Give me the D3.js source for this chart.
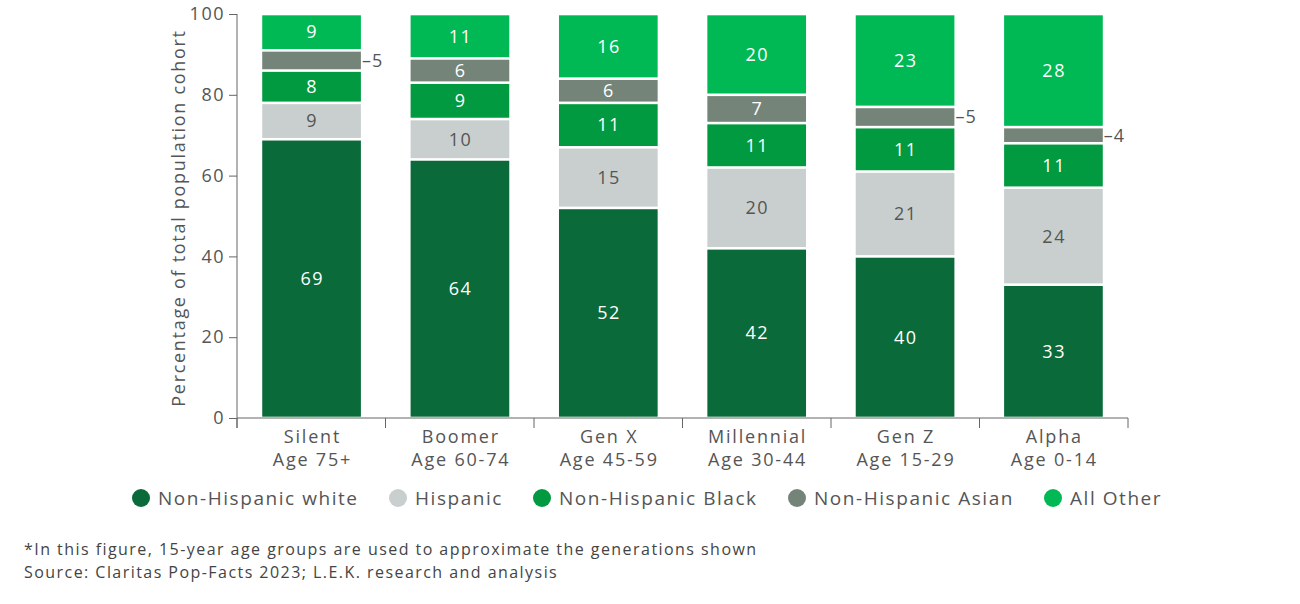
<!DOCTYPE html>
<html>
<head>
<meta charset="utf-8">
<script src="https://cdn.jsdelivr.net/npm/d3@7"></script>
<style>
  body { margin: 0; background: #fff; }
  text { font-family: "Open Sans", sans-serif; letter-spacing: 1.5px; }
</style>
</head>
<body>
<div id="chart"></div>
<script>
// generations on the x axis (two-line labels)
const generations = ["Silent", "Boomer", "Gen X", "Millennial", "Gen Z", "Alpha"];
const ageRanges = ["Age 75+", "Age 60-74", "Age 45-59", "Age 30-44", "Age 15-29", "Age 0-14"];

// series, bottom to top
const groups = ["Non-Hispanic white", "Hispanic", "Non-Hispanic Black", "Non-Hispanic Asian", "All Other"];
const colors = ["#0b6a3a", "#c9cfce", "#019a40", "#758479", "#00b955"];
const labelColors = ["#fff", "#555", "#fff", "#fff", "#fff"];

const white = [69, 64, 52, 42, 40, 33];
const hispanic = [9, 10, 15, 20, 21, 24];
const black = [8, 9, 11, 11, 11, 11];
const asian = [5, 6, 6, 7, 5, 4];
const other = [9, 11, 16, 20, 23, 28];

const yTicks = [0, 20, 40, 60, 80, 100];

const footnotes = [
  "*In this figure, 15-year age groups are used to approximate the generations shown",
  "Source: Claritas Pop-Facts 2023; L.E.K. research and analysis"
];

const w = 1300, h = 604;
const margin = {top: 14, left: 237, right: 172, bottom: 186};

const rows = generations.map((g, i) => ({
  gen: g,
  "Non-Hispanic white": white[i],
  "Hispanic": hispanic[i],
  "Non-Hispanic Black": black[i],
  "Non-Hispanic Asian": asian[i],
  "All Other": other[i]
}));

const svg = d3.select("#chart").append("svg")
    .attr("width", w)
    .attr("height", h);

const x = d3.scaleBand()
    .domain(generations)
    .range([margin.left, w - margin.right])
    .paddingInner(0.335)
    .paddingOuter(0.17);

const y = d3.scaleLinear()
    .domain([0, 100])
    .range([h - margin.bottom, margin.top]);

const stacked = d3.stack().keys(groups)(rows);

// bars
const layer = svg.selectAll("g.layer")
    .data(stacked)
    .enter().append("g")
    .attr("class", "layer")
    .attr("fill", (d, i) => colors[i]);

layer.selectAll("rect")
    .data(d => d.map(v => ({v: v, key: d.key})))
    .enter().append("rect")
    .attr("x", d => x(d.v.data.gen))
    .attr("width", x.bandwidth())
    .attr("y", d => y(d.v[1]) + 1.3)
    .attr("height", d => Math.max(0, y(d.v[0]) - y(d.v[1]) - 2.6));

// segment labels, small ones go outside the bar
layer.each(function(series, si) {
  const g = d3.select(this);
  series.forEach(v => {
    const val = v[1] - v[0];
    const cy = y((v[0] + v[1]) / 2);
    if (val < 6) {
      g.append("text")
        .attr("x", x(v.data.gen) + x.bandwidth() + 1)
        .attr("y", cy)
        .attr("dy", "0.35em")
        .attr("fill", "#555")
        .attr("font-size", 18)
        .style("letter-spacing", "1px")
        .text("\u2013" + val);
    } else {
      g.append("text")
        .attr("x", x(v.data.gen) + x.bandwidth() / 2 + 0.7)
        .attr("y", cy)
        .attr("dy", "0.35em")
        .attr("text-anchor", "middle")
        .attr("fill", labelColors[si])
        .attr("font-size", 18)
        .text(val);
    }
  });
});

// y axis
const yAxis = svg.append("g")
    .attr("transform", "translate(" + margin.left + ",0)")
    .call(d3.axisLeft(y).tickValues(yTicks).tickSize(8).tickPadding(4));
yAxis.select(".domain").attr("stroke", "#666").attr("d", "M0," + y(100) + "V" + (y(0) + 10));
yAxis.selectAll(".tick line").attr("stroke", "#666");
yAxis.selectAll(".tick text")
    .attr("font-size", 18)
    .attr("fill", "#555")
    .style("font-family", "'Open Sans', sans-serif");

// x axis
const xAxis = svg.append("g")
    .attr("transform", "translate(0," + y(0) + ")");
xAxis.append("line")
    .attr("x1", margin.left).attr("x2", w - margin.right)
    .attr("stroke", "#666");
const edges = d3.range(generations.length + 1).map(i => margin.left + i * (w - margin.right - margin.left) / generations.length);
xAxis.selectAll("line.tk")
    .data(edges)
    .enter().append("line")
    .attr("class", "tk")
    .attr("x1", d => d).attr("x2", d => d)
    .attr("y1", 0).attr("y2", 10)
    .attr("stroke", "#666");
const xl = xAxis.selectAll("text.xl")
    .data(generations)
    .enter().append("text")
    .attr("class", "xl")
    .attr("text-anchor", "middle")
    .attr("fill", "#555")
    .attr("font-size", 18)
    .style("letter-spacing", "1.8px")
    .attr("x", d => x(d) + x.bandwidth() / 2);
xl.append("tspan").attr("x", d => x(d) + x.bandwidth() / 2 + 0.9).attr("y", 25).text(d => d);
xl.append("tspan").attr("x", d => x(d) + x.bandwidth() / 2 + 0.9).attr("y", 48).text((d, i) => ageRanges[i]);

// y axis title
svg.append("text")
    .attr("transform", "translate(185," + (y(50) + 2) + ") rotate(-90)")
    .attr("text-anchor", "middle")
    .attr("fill", "#555")
    .attr("font-size", 18)
    .style("letter-spacing", "1.7px")
    .text("Percentage of total population cohort");

// legend
const legendX = [141, 398, 542, 797, 1053];
const legend = svg.selectAll("g.legend")
    .data(groups)
    .enter().append("g")
    .attr("class", "legend")
    .attr("transform", (d, i) => "translate(" + legendX[i] + ",498)");
legend.append("circle")
    .attr("r", 9)
    .attr("fill", (d, i) => colors[i]);
legend.append("text")
    .attr("x", 17)
    .attr("dy", "0.35em")
    .attr("fill", "#555")
    .attr("font-size", 19)
    .style("letter-spacing", "1.55px")
    .text(d => d);

// footnotes
svg.selectAll("text.note")
    .data(footnotes)
    .enter().append("text")
    .attr("class", "note")
    .attr("x", 24)
    .attr("y", (d, i) => 555 + i * 23)
    .attr("fill", "#444")
    .attr("font-size", 16)
    .style("letter-spacing", "1.45px")
    .text(d => d);
</script>
</body>
</html>
